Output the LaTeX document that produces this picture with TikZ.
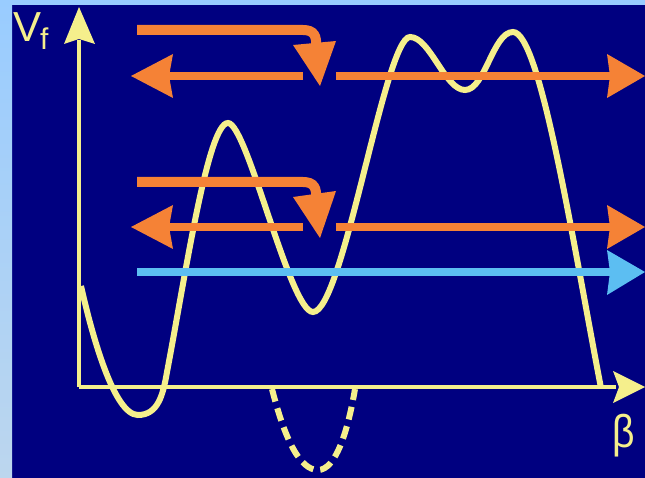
\documentclass[tikz,border=0pt]{standalone}
\usepackage{fontspec}
\setmainfont{Liberation Sans}
\definecolor{navybg}{HTML}{000080}
\definecolor{stripA}{HTML}{99CCFF}
\definecolor{stripB}{HTML}{BCD6EE}
\definecolor{curveyel}{HTML}{F5EF8C}
\definecolor{arrorange}{HTML}{F58236}
\definecolor{arrblue}{HTML}{5CBEF2}
\begin{document}
\begin{tikzpicture}[x=1pt,y=-1pt,
  curve/.style={draw=curveyel, line width=6pt},
  axisline/.style={draw=curveyel, line width=4.5pt},
  orangeline/.style={draw=arrorange, line width=8pt},
  blueline/.style={draw=arrblue, line width=8pt},
  label/.style={text=curveyel, inner sep=0pt}]
\useasboundingbox (0,0) rectangle (645,478);
\fill[navybg] (0,0) rectangle (645,478);
\shade[top color=stripA, bottom color=stripB] (0,0) rectangle (12,478);
\fill[stripA] (0,0) rectangle (645,5);

% axes
\draw[axisline] (79,387) -- (79,40);
\fill[curveyel] (79,7) -- (95,44) -- (79,39) -- (64,44) -- cycle;
\draw[axisline] (79,387) -- (616,387);
\fill[curveyel] (645,387) -- (613,403) -- (619,387) -- (613,371) -- cycle;

% potential curve
\draw[curve] (81,286)
  .. controls (92,335) and (114,415) .. (138,415)
  .. controls (158,415) and (163,395) .. (167,372)
  .. controls (186,272) and (208,123) .. (228,123)
  .. controls (247,123) and (290,312) .. (313,312)
  .. controls (343,312) and (385,37) .. (410,37)
  .. controls (430,37) and (445,90) .. (465,90)
  .. controls (485,90) and (493,32) .. (513,32)
  .. controls (540,32) and (572,237) .. (601,388);
\draw[curve, dash pattern=on 13pt off 7pt] (272,389)
  .. controls (285,440) and (300,470) .. (318,470)
  .. controls (336,470) and (348,430) .. (355,389);

% group 1 (top)
\draw[orangeline, line width=10pt] (137,30) -- (303,30) .. controls (314,30) and (317,36) .. (316,47);
\fill[arrorange] (293,45) -- (336,41) -- (320,86) -- cycle;
\draw[orangeline] (303,76) -- (168,76);
\fill[arrorange] (131,76) -- (173,54) -- (169,76) -- (173,98) -- cycle;
\draw[orangeline] (336,76) -- (612,76);
\fill[arrorange] (645,76) -- (607,54) -- (610,76) -- (607,98) -- cycle;

% group 2
\draw[orangeline, line width=10pt] (137,182) -- (303,182) .. controls (314,182) and (317,188) .. (316,199);
\fill[arrorange] (293,197) -- (336,191) -- (320,238) -- cycle;
\draw[orangeline] (303,227) -- (168,227);
\fill[arrorange] (131,227) -- (173,205) -- (169,227) -- (173,249) -- cycle;
\draw[orangeline] (336,227) -- (612,227);
\fill[arrorange] (645,227) -- (607,205) -- (610,227) -- (607,249) -- cycle;

% blue arrow
\draw[blueline] (137,272) -- (612,272);
\fill[arrblue] (645,272) -- (607,250) -- (610,272) -- (607,295) -- cycle;

% labels
\node[label, anchor=base west, font=\fontsize{42}{42}\selectfont] (vlab) at (13,42)
  {V\kern-1pt\raisebox{-8pt}{\fontsize{30}{30}\selectfont f}};
\node[label, anchor=base, font=\fontsize{46}{46}\selectfont, xscale=0.85] (blab) at (624,447) {β};
\end{tikzpicture}
\end{document}
